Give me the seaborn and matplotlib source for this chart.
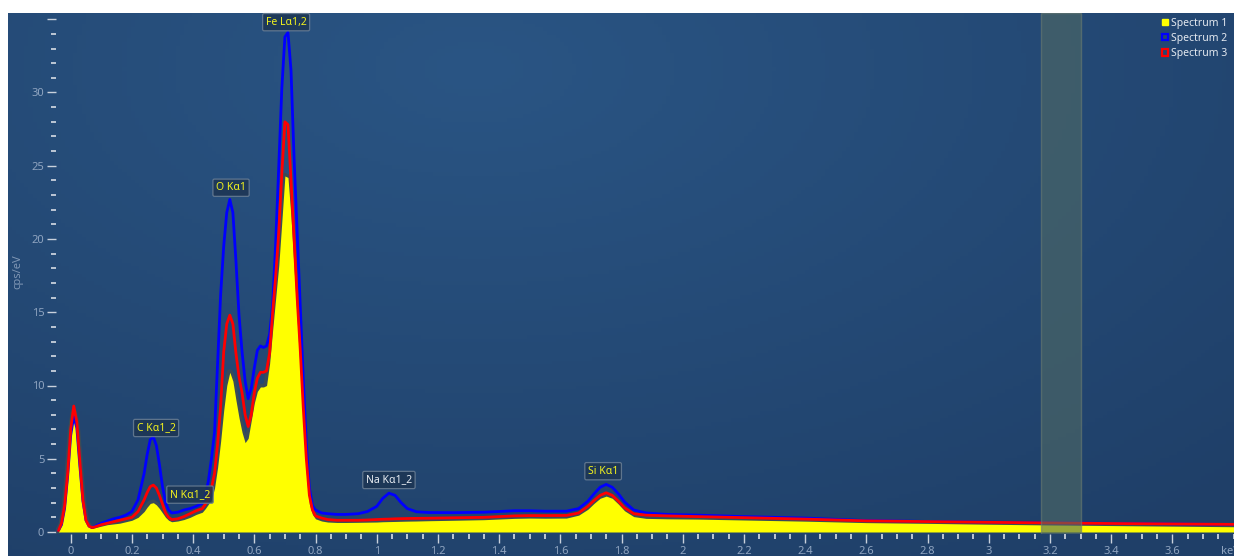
import numpy as np
import pandas as pd
import matplotlib
matplotlib.use("Agg")
import matplotlib.pyplot as plt
from matplotlib.patches import Patch
from matplotlib.ticker import MultipleLocator
import seaborn as sns

sns.set_theme(style="white")
plt.rcParams['font.family'] = ['Noto Sans', 'DejaVu Sans']

# energy axis (keV)
energy = [-0.04, -0.03, -0.02, -0.01, 0.0, 0.01, 0.02, 0.03, 0.04, 0.05, 0.06, 0.07, 0.08,
          0.10, 0.12, 0.14, 0.16, 0.18, 0.20, 0.22, 0.24, 0.25, 0.26, 0.27, 0.28, 0.29, 0.30,
          0.31, 0.32, 0.33, 0.35, 0.37, 0.39, 0.41, 0.43, 0.44, 0.45, 0.46, 0.47, 0.48, 0.49,
          0.50, 0.51, 0.52, 0.53, 0.54, 0.55, 0.56, 0.57, 0.58, 0.59, 0.60, 0.61, 0.62, 0.63,
          0.64, 0.65, 0.66, 0.67, 0.68, 0.69, 0.70, 0.71, 0.72, 0.73, 0.74, 0.75, 0.76, 0.77,
          0.78, 0.79, 0.80, 0.82, 0.84, 0.87, 0.90, 0.94, 0.97, 1.00, 1.02, 1.04, 1.06, 1.08,
          1.10, 1.13, 1.17, 1.25, 1.35, 1.45, 1.50, 1.55, 1.62, 1.66, 1.69, 1.71, 1.73, 1.75,
          1.77, 1.79, 1.81, 1.84, 1.88, 1.95, 2.05, 2.2, 2.4, 2.6, 2.8, 3.0, 3.2, 3.4, 3.6, 3.8]

spectrum1 = [0.1, 0.5, 1.6, 3.8, 6.8, 8.2, 7.2, 4.5, 2.0, 0.7, 0.35, 0.25, 0.3,
             0.4, 0.5, 0.55, 0.6, 0.7, 0.8, 1.0, 1.4, 1.7, 1.95, 2.0, 1.85, 1.6, 1.3,
             1.0, 0.8, 0.7, 0.75, 0.85, 1.0, 1.2, 1.35, 1.6, 1.9, 2.2, 3.0, 4.4, 6.2,
             8.3, 10.0, 10.9, 10.3, 9.0, 7.8, 6.8, 6.1, 6.4, 7.6, 8.8, 9.6, 9.9, 9.9,
             10.0, 11.5, 13.8, 16.0, 18.2, 21.2, 24.3, 24.2, 21.5, 18.0, 14.5, 11.0, 7.5, 4.0,
             1.9, 1.2, 0.9, 0.75, 0.68, 0.65, 0.65, 0.66, 0.67, 0.68, 0.70, 0.71, 0.72, 0.73,
             0.74, 0.75, 0.77, 0.80, 0.84, 0.93, 0.95, 0.94, 0.95, 1.15, 1.55, 1.95, 2.3, 2.45,
             2.3, 1.9, 1.45, 1.05, 0.93, 0.9, 0.88, 0.82, 0.74, 0.64, 0.59, 0.53, 0.48, 0.44, 0.40, 0.36]

spectrum2 = [0.1, 0.5, 1.6, 3.8, 6.6, 7.9, 7.1, 4.5, 2.1, 0.8, 0.4, 0.3, 0.4,
             0.6, 0.75, 0.9, 1.0, 1.15, 1.4, 2.2, 4.0, 5.3, 6.3, 6.5, 5.9, 4.6, 3.1,
             2.0, 1.5, 1.3, 1.35, 1.5, 1.6, 1.75, 1.95, 2.5, 3.5, 5.0, 6.8, 11.5, 16.2,
             19.5, 21.8, 22.7, 21.8, 18.5, 14.8, 12.3, 10.3, 9.1, 9.8, 11.2, 12.4, 12.7, 12.6,
             12.7, 13.5, 15.5, 19.8, 25.0, 30.3, 33.8, 34.1, 31.5, 25.5, 20.5, 15.5, 10.5, 6.0,
             3.0, 1.8, 1.5, 1.3, 1.25, 1.2, 1.2, 1.25, 1.4, 1.75, 2.3, 2.65, 2.5, 2.0,
             1.6, 1.38, 1.33, 1.32, 1.35, 1.45, 1.45, 1.42, 1.42, 1.6, 2.1, 2.6, 3.05, 3.25,
             3.05, 2.6, 2.05, 1.5, 1.3, 1.2, 1.15, 1.05, 0.95, 0.78, 0.72, 0.67, 0.63, 0.59, 0.55, 0.51]

spectrum3 = [0.1, 0.6, 1.8, 4.0, 7.0, 8.6, 7.5, 4.8, 2.2, 0.8, 0.4, 0.3, 0.35,
             0.5, 0.6, 0.7, 0.8, 0.9, 1.0, 1.4, 2.2, 2.7, 3.1, 3.2, 3.0, 2.5, 1.9,
             1.3, 1.0, 0.85, 0.9, 1.05, 1.25, 1.45, 1.6, 1.9, 2.3, 3.0, 4.0, 6.0, 8.6,
             12.3, 14.2, 14.8, 14.2, 12.2, 10.6, 9.5, 8.0, 7.2, 8.0, 9.5, 10.5, 10.9, 10.9,
             11.0, 12.2, 15.0, 17.5, 20.5, 24.5, 28.0, 27.8, 24.0, 20.0, 16.0, 12.5, 8.5, 5.0,
             2.5, 1.5, 1.1, 0.95, 0.85, 0.8, 0.8, 0.8, 0.82, 0.85, 0.87, 0.88, 0.9, 0.91,
             0.92, 0.93, 0.94, 0.97, 1.0, 1.1, 1.12, 1.12, 1.13, 1.3, 1.75, 2.15, 2.5, 2.68,
             2.5, 2.1, 1.65, 1.25, 1.15, 1.1, 1.05, 0.98, 0.88, 0.76, 0.71, 0.66, 0.62, 0.58, 0.55, 0.52]

series_names = ["Spectrum 1", "Spectrum 2", "Spectrum 3"]
series_colors = ["#ffff00", "#0000ff", "#ff0000"]

peak_labels = ["Fe L\u03b11,2", "O K\u03b11", "C K\u03b11_2", "N K\u03b11_2", "Na K\u03b11_2", "Si K\u03b11"]
peak_energy = [0.704, 0.524, 0.279, 0.39, 1.04, 1.74]
label_height = [34.8, 23.5, 7.1, 2.55, 3.55, 4.15]
label_colors = ["#f2f21e", "#f2f21e", "#f2f21e", "#f2f21e", "#e8ecf2", "#f2f21e"]

band_lo, band_hi = 3.171, 3.302

df = pd.DataFrame({
    "keV": energy * 2,
    "cps": spectrum2 + spectrum3,
    "series": ["Spectrum 2"] * len(energy) + ["Spectrum 3"] * len(energy),
})

W, H = 1234, 556
fig = plt.figure(figsize=(W / 100, H / 100), dpi=100, facecolor="white")

# dark gradient background
bg = fig.add_axes([8 / W, 0, 1 - 8 / W, (H - 13) / H])
gx, gy = np.meshgrid(np.linspace(0, 1, 300), np.linspace(0, 1, 150))
d = np.clip(np.sqrt(((gx - 0.38) / 0.9) ** 2 + ((gy - 0.9) / 1.1) ** 2), 0, 1)
c0 = np.array([0x2a, 0x55, 0x84]) / 255
c1 = np.array([0x1f, 0x3f, 0x68]) / 255
img = c0[None, None, :] * (1 - d[..., None]) + c1[None, None, :] * d[..., None]
bg.imshow(img, origin="lower", aspect="auto", extent=[0, 1, 0, 1])
bg.set_axis_off()

# main plotting axes, pixel-aligned
x0_px, kev_px = 70.7, 306.0
y0_px, unit_px = 532.0, 14.65
xlim = (-0.048, 3.80)
ylim = (-0.15, 35.4)
left = (x0_px + xlim[0] * kev_px) / W
width = (xlim[1] - xlim[0]) * kev_px / W
bottom = (H - (y0_px - ylim[0] * unit_px)) / H
height = (ylim[1] - ylim[0]) * unit_px / H
ax = fig.add_axes([left, bottom, width, height])
ax.set_facecolor("none")
ax.set_xlim(*xlim)
ax.set_ylim(*ylim)

# spectrum 1 filled with a dark halo
ax.plot(energy, spectrum1, color="#3a4b57", lw=4.5, zorder=2, solid_joinstyle="round")
ax.fill_between(energy, 0, spectrum1, color=series_colors[0], lw=0, zorder=3)

sns.lineplot(data=df, x="keV", y="cps", hue="series", ax=ax, estimator=None, sort=False,
             palette={"Spectrum 2": series_colors[1], "Spectrum 3": series_colors[2]},
             linewidth=2.0, legend=False, zorder=4)

ax.axvspan(band_lo, band_hi, color="#506a64", alpha=0.6, lw=1.0, ec="#6c7d70", zorder=6)

# peak labels
for lab, ex, hy, col in zip(peak_labels, peak_energy, label_height, label_colors):
    ax.text(ex, hy, lab, ha="center", va="center", fontsize=7.5, color=col, zorder=8,
            bbox=dict(boxstyle="round,pad=0.3,rounding_size=0.15", fc="#1d3553", ec="#6b7f95",
                      lw=0.9, alpha=0.85))

for sp in ax.spines.values():
    sp.set_visible(False)

ax.set_yticks(range(0, 36, 5), labels=[str(v) for v in range(0, 31, 5)] + [""])
ax.yaxis.set_minor_locator(MultipleLocator(1))
ax.xaxis.set_minor_locator(MultipleLocator(0.05))
ax.set_xticks(np.arange(0, 3.7, 0.2), labels=[f"{v:g}" for v in np.round(np.arange(0, 3.7, 0.2), 1)])
ax.tick_params(axis="both", which="both", direction="out", colors="#c9d1dc",
               labelcolor="#8fa4c0", labelsize=8, pad=2)
ax.tick_params(axis="both", which="major", length=6.5, width=1.0, left=True, bottom=True)
ax.tick_params(axis="both", which="minor", length=3.5, width=1.3, left=True, bottom=True)
ax.set_xlabel("")
ax.set_ylabel("")

fig.text(18 / W, 1 - 272 / H, "cps/eV", rotation=90, ha="center", va="center",
         fontsize=8, color="#7f96b4")
fig.text(1221 / W, 1 - 551 / H, "keV", ha="left", va="center", fontsize=8, color="#8fa4c0")

handles = [Patch(fc=series_colors[0], ec=series_colors[0], lw=1),
           Patch(fc="none", ec=series_colors[1], lw=1.6),
           Patch(fc="none", ec=series_colors[2], lw=1.6)]
leg = ax.legend(handles, series_names, loc="upper right", bbox_to_anchor=(0.9995, 1.002),
                frameon=False, fontsize=7.5, handlelength=0.6, handleheight=0.6,
                handletextpad=0.3, labelspacing=0.4, borderaxespad=0.1)
for t in leg.get_texts():
    t.set_color("#e4e9f0")
leg.set_zorder(9)

fig.savefig("out.png", dpi=100, facecolor="white")
